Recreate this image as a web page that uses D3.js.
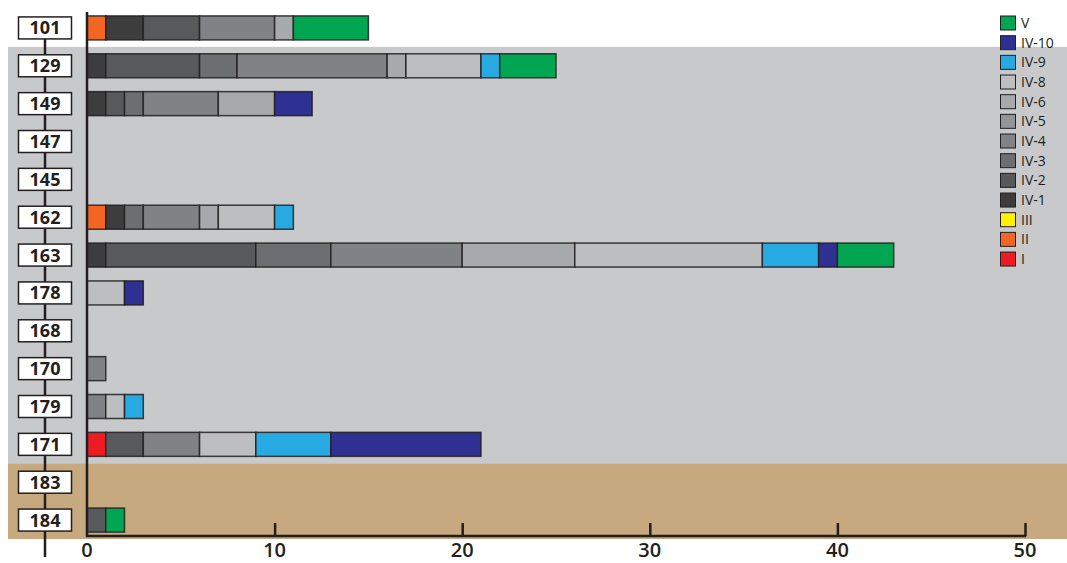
<!DOCTYPE html>
<html>
<head>
<meta charset="utf-8">
<script src="https://cdn.jsdelivr.net/npm/d3@7"></script>
<style>
  html, body { margin: 0; padding: 0; background: #ffffff; }
  svg { display: block; }
  text { font-family: "Open Sans", "Noto Sans", sans-serif; fill: #231f20; }
</style>
</head>
<body>
<svg id="chart" width="1067" height="563"></svg>
<script>
// Sample categories, top to bottom
const categories = ["101", "129", "149", "147", "145", "162", "163", "178", "168", "170", "179", "171", "183", "184"];

// Class keys in stacking order (left to right along each bar)
const classes = ["I", "II", "III", "IV-1", "IV-2", "IV-3", "IV-4", "IV-5", "IV-6", "IV-8", "IV-9", "IV-10", "V"];

// Counts per class, one value per category
const valuesI    = [0, 0, 0, 0, 0, 0, 0, 0, 0, 0, 0, 1, 0, 0];
const valuesII   = [1, 0, 0, 0, 0, 1, 0, 0, 0, 0, 0, 0, 0, 0];
const valuesIII  = [0, 0, 0, 0, 0, 0, 0, 0, 0, 0, 0, 0, 0, 0];
const valuesIV1  = [2, 1, 1, 0, 0, 1, 1, 0, 0, 0, 0, 0, 0, 0];
const valuesIV2  = [3, 5, 1, 0, 0, 0, 8, 0, 0, 0, 0, 2, 0, 1];
const valuesIV3  = [0, 2, 1, 0, 0, 1, 4, 0, 0, 0, 0, 0, 0, 0];
const valuesIV4  = [4, 8, 4, 0, 0, 3, 7, 0, 0, 1, 1, 3, 0, 0];
const valuesIV5  = [0, 0, 0, 0, 0, 0, 0, 0, 0, 0, 0, 0, 0, 0];
const valuesIV6  = [1, 1, 3, 0, 0, 1, 6, 0, 0, 0, 0, 0, 0, 0];
const valuesIV8  = [0, 4, 0, 0, 0, 3, 10, 2, 0, 0, 1, 3, 0, 0];
const valuesIV9  = [0, 1, 0, 0, 0, 1, 3, 0, 0, 0, 1, 4, 0, 0];
const valuesIV10 = [0, 0, 2, 0, 0, 0, 1, 1, 0, 0, 0, 8, 0, 0];
const valuesV    = [4, 3, 0, 0, 0, 0, 3, 0, 0, 0, 0, 0, 0, 1];

const seriesValues = [valuesI, valuesII, valuesIII, valuesIV1, valuesIV2, valuesIV3, valuesIV4,
                      valuesIV5, valuesIV6, valuesIV8, valuesIV9, valuesIV10, valuesV];

const classColors = ["#ed1c24", "#f26522", "#fff200", "#3d3d3e", "#58595b", "#6d6e71", "#808285",
                     "#939598", "#a7a9ac", "#bcbec0", "#27aae1", "#2e3192", "#00a651"];

// Zone backgrounds: first category unshaded, grey zone, tan zone
const zoneStart = ["129", "183"];
const zoneEnd   = ["171", "184"];
const zoneColors = ["#c8c9cb", "#c6a97f"];

const xTicks = [0, 10, 20, 30, 40, 50];

// Build table rows for stacking
const table = categories.map((c, i) => {
  const row = { category: c };
  classes.forEach((k, j) => { row[k] = seriesValues[j][i]; });
  return row;
});

const svg = d3.select("#chart");
const ink = "#231f20";

const x = d3.scaleLinear().domain([0, 50]).range([87, 1025]);
const y = d3.scalePoint().domain(categories).range([9, 539]).padding(0.5);
const step = y.step();
const barH = 24;

const color = d3.scaleOrdinal().domain(classes).range(classColors);

// Background zones
zoneStart.forEach((s, i) => {
  const top = y(s) - step / 2;
  const bottom = y(zoneEnd[i]) + step / 2;
  svg.append("rect")
    .attr("x", 8).attr("y", top)
    .attr("width", 1067 - 8).attr("height", bottom - top)
    .attr("fill", zoneColors[i]);
});

// Stacked bars
const stacked = d3.stack().keys(classes)(table);
svg.append("g").selectAll("g")
  .data(stacked)
  .join("g")
  .attr("fill", d => color(d.key))
  .selectAll("rect")
  .data(d => d.filter(s => s[1] - s[0] > 0))
  .join("rect")
  .attr("x", d => x(d[0]))
  .attr("y", d => y(d.data.category) - barH / 2)
  .attr("width", d => x(d[1]) - x(d[0]))
  .attr("height", barH)
  .attr("stroke", ink)
  .attr("stroke-width", 1.5)
  .attr("stroke-opacity", 0.85);

// Vertical axis line
svg.append("line")
  .attr("x1", x(0)).attr("x2", x(0))
  .attr("y1", 12).attr("y2", 537)
  .attr("stroke", ink).attr("stroke-width", 2.5);

// Bottom axis with upward ticks
const xAxis = d3.axisTop(x).tickValues(xTicks.slice(1)).tickSize(13).tickFormat("");
const axisG = svg.append("g").attr("transform", "translate(0,536)").call(xAxis);
axisG.select(".domain").remove();
axisG.selectAll(".tick line").attr("stroke", ink).attr("stroke-width", 2.5);
svg.append("line")
  .attr("x1", x(0) - 1).attr("x2", x(50) + 1.2)
  .attr("y1", 536).attr("y2", 536)
  .attr("stroke", ink).attr("stroke-width", 2.5);

// Tick labels
svg.append("g").selectAll("text")
  .data(xTicks)
  .join("text")
  .attr("x", d => x(d))
  .attr("y", 557)
  .attr("text-anchor", "middle")
  .attr("font-size", 20)
  .attr("font-weight", 600)
  .text(d => d);

// Category label column: connector line and boxes
svg.append("line")
  .attr("x1", 45).attr("x2", 45)
  .attr("y1", y(categories[0])).attr("y2", 557)
  .attr("stroke", ink).attr("stroke-width", 2.5);

const labels = svg.append("g").selectAll("g")
  .data(categories)
  .join("g")
  .attr("transform", d => `translate(45,${y(d)})`);
labels.append("rect")
  .attr("x", -26.5).attr("y", -11)
  .attr("width", 53).attr("height", 22)
  .attr("fill", "#ffffff")
  .attr("stroke", ink).attr("stroke-width", 1.5);
labels.append("text")
  .attr("text-anchor", "middle")
  .attr("dy", "0.36em")
  .attr("font-size", 18)
  .attr("font-weight", 700)
  .text(d => d);

// Legend, top entry is the last class
const legendKeys = classes.slice().reverse();
const legend = svg.append("g").selectAll("g")
  .data(legendKeys)
  .join("g")
  .attr("transform", (d, i) => `translate(1000,${23 + i * 19.67})`);
legend.append("rect")
  .attr("x", 0.5).attr("y", -7)
  .attr("width", 15).attr("height", 14)
  .attr("fill", d => color(d))
  .attr("stroke", ink).attr("stroke-width", 1);
legend.append("text")
  .attr("x", 21).attr("dy", "0.36em")
  .attr("font-size", 14)
  .attr("font-weight", 500)
  .text(d => d);
</script>
</body>
</html>
